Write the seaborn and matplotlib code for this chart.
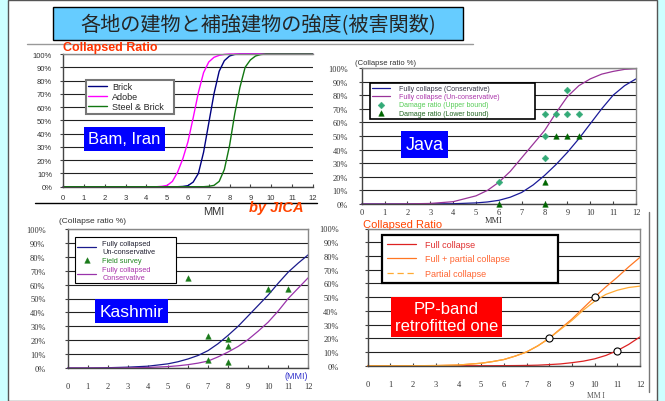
# -*- coding: utf-8 -*-
# 各地の建物と補強建物の強度 (被害関数) - 4 panels
import matplotlib
matplotlib.use('Agg')
import matplotlib.pyplot as plt
from matplotlib.patches import Rectangle
from matplotlib.lines import Line2D
import seaborn as sns

# ---------------- data ----------------
title = '各地の建物と補強建物の強度(被害関数)'
mmi_ticks = list(range(13))
pct_ticks = [i / 10 for i in range(11)]
pct_labels = ['%d%%' % (i * 10) for i in range(11)]

# Bam, Iran
bam_brick_x = [0, 5.5, 5.75, 6.0, 6.25, 6.5, 6.75, 7.0, 7.25, 7.5, 7.75, 8.0, 8.25, 8.5, 12]
bam_brick_y = [0, 0, 0.002, 0.008, 0.035, 0.10, 0.26, 0.48, 0.70, 0.87, 0.95, 0.985, 0.997, 1.0, 1.0]
bam_adobe_x = [0, 4.5, 4.75, 5.0, 5.25, 5.5, 5.75, 6.0, 6.25, 6.5, 6.75, 7.0, 7.25, 7.5, 7.75, 8.0, 12]
bam_adobe_y = [0, 0, 0.003, 0.01, 0.04, 0.11, 0.21, 0.34, 0.52, 0.71, 0.86, 0.94, 0.975, 0.99, 0.997, 1.0, 1.0]
bam_steel_x = [0, 6.75, 7.0, 7.25, 7.5, 7.75, 8.0, 8.25, 8.5, 8.75, 9.0, 9.25, 9.5, 9.75, 12]
bam_steel_y = [0, 0, 0.003, 0.01, 0.04, 0.13, 0.31, 0.55, 0.75, 0.90, 0.955, 0.985, 0.996, 1.0, 1.0]

# Java
java_x = [0, 1, 2, 3, 4, 5, 5.5, 6, 6.5, 7, 7.5, 8, 8.5, 9, 9.5, 10, 10.5, 11, 11.5, 12]
java_cons = [0, 0, 0, 0.001, 0.002, 0.008, 0.015, 0.027, 0.05, 0.085, 0.14, 0.21, 0.29, 0.38,
             0.48, 0.59, 0.70, 0.80, 0.87, 0.92]
java_uncons = [0, 0, 0.001, 0.004, 0.017, 0.06, 0.10, 0.16, 0.24, 0.34, 0.44, 0.54, 0.67, 0.79,
               0.87, 0.92, 0.955, 0.975, 0.99, 0.995]
java_upper_x = [6, 8, 8, 8, 8.5, 9, 9, 9.5]
java_upper_y = [0.165, 0.335, 0.5, 0.665, 0.665, 0.665, 0.835, 0.665]
java_lower_x = [6, 8, 8, 8.5, 9, 9.5]
java_lower_y = [0, 0, 0.165, 0.5, 0.5, 0.5]

# Kashmir
kash_x = [0, 1, 2, 3, 4, 5, 5.5, 6, 6.5, 7, 7.5, 8, 8.5, 9, 9.5, 10, 10.5, 11, 11.5, 12]
kash_uncons = [0, 0, 0.002, 0.006, 0.013, 0.03, 0.045, 0.065, 0.09, 0.125, 0.175, 0.235, 0.30,
               0.375, 0.45, 0.525, 0.61, 0.69, 0.755, 0.815]
kash_cons = [0, 0, 0, 0.001, 0.004, 0.01, 0.016, 0.024, 0.035, 0.05, 0.08, 0.115, 0.155, 0.205,
             0.265, 0.33, 0.41, 0.50, 0.575, 0.65]
kash_survey_x = [6, 7, 7, 8, 8, 8, 10, 11]
kash_survey_y = [0.645, 0.23, 0.06, 0.21, 0.155, 0.045, 0.57, 0.57]

# PP-band retrofitted
pp_x = [0, 1, 2, 3, 4, 5, 5.5, 6, 6.5, 7, 7.5, 8, 8.5, 9, 9.5, 10, 10.5, 11, 11.5, 12]
pp_full = [0, 0, 0, 0, 0, 0, 0, 0.0005, 0.001, 0.002, 0.004, 0.008, 0.013, 0.022, 0.033, 0.05,
           0.075, 0.11, 0.155, 0.21]
pp_full_partial = [0, 0, 0, 0.001, 0.005, 0.018, 0.03, 0.045, 0.07, 0.10, 0.145, 0.20, 0.27,
                   0.34, 0.42, 0.50, 0.575, 0.645, 0.72, 0.79]
pp_partial = [0, 0, 0, 0.001, 0.005, 0.018, 0.03, 0.045, 0.07, 0.10, 0.145, 0.20, 0.265, 0.33,
              0.405, 0.47, 0.52, 0.55, 0.57, 0.58]
pp_circle_x = [8, 10, 11]
pp_circle_y = [0.20, 0.50, 0.11]

# ---------------- figure ----------------
sns.set_theme(style='white')
plt.rcParams['font.family'] = ['Liberation Sans', 'DejaVu Sans']
W, H = 665, 402
fig = plt.figure(figsize=(W / 100, H / 100), dpi=100, facecolor='#CCFFFF')


def px(x0, y0, x1, y1):
    # pixel box -> figure fraction
    return [x0 / W, 1 - y1 / H, (x1 - x0) / W, (y1 - y0) / H]


def fx(x, y):
    return x / W, 1 - y / H


# slide background (kept below the axes)
fig.add_artist(Rectangle(fx(8, 402), 649 / W, 401 / H, transform=fig.transFigure,
                         fc='white', ec='#555555', lw=1, zorder=-10))
fig.add_artist(Rectangle(fx(53, 41), 410 / W, 33 / H, transform=fig.transFigure,
                         fc='#66CCFF', ec='black', lw=1, zorder=-5))
fig.text(*fx(258.5, 25.5), title, ha='center', va='center', fontsize=14.5,
         family=['Noto Sans CJK JP', 'DejaVu Sans'])
fig.add_artist(Line2D([27 / W, 473 / W], [1 - 45 / H] * 2, transform=fig.transFigure,
                      color='#999999', lw=1, zorder=-5))
fig.add_artist(Line2D([35 / W, 317 / W], [1 - 204 / H] * 2, transform=fig.transFigure,
                      color='black', lw=1, zorder=-5))
fig.add_artist(Line2D([649 / W] * 2, [1 - 213 / H, 1 - 393 / H], transform=fig.transFigure,
                      color='#777777', lw=1, zorder=-5))


def setup(ax, serif, ylab_pad, xlab_pad, fs):
    ax.set_xlim(0, 12)
    ax.set_ylim(0, 1)
    ax.set_xticks(mmi_ticks)
    ax.set_yticks(pct_ticks)
    ax.set_yticklabels(pct_labels)
    ax.set_xlabel('')
    ax.set_ylabel('')
    fam = ['Liberation Serif'] if serif else ['Liberation Sans']
    for t in ax.get_xticklabels() + ax.get_yticklabels():
        t.set_family(fam)
        t.set_fontsize(fs)
        t.set_color('#333333')
    ax.tick_params(axis='x', direction='in', length=2, width=0.8, pad=xlab_pad, color='#444444',
                   bottom=True)
    ax.tick_params(axis='y', direction='out', length=2, width=0.8, pad=ylab_pad, color='#444444',
                   left=True)
    ax.grid(axis='y', color='#222222', lw=0.8)
    ax.grid(axis='x', visible=False)
    ax.set_axisbelow(True)
    for s in ['left', 'bottom']:
        ax.spines[s].set_color('#444444')
        ax.spines[s].set_linewidth(1)
    for s in ['top', 'right']:
        ax.spines[s].set_color('#888888')
        ax.spines[s].set_linewidth(1)


def label_box(ax, cx, cy, text, fc, fs):
    ax.text(cx, cy, text, transform=ax.transAxes, ha='center', va='center', fontsize=fs,
            color='white', zorder=10, linespacing=1.15,
            bbox=dict(boxstyle='square,pad=0.25', fc=fc, ec='none'))


def curve(ax, x, y, color, lw=0.9):
    sns.lineplot(x=x, y=y, ax=ax, color=color, lw=lw, errorbar=None, clip_on=False)
    return ax.get_lines()[-1]


# ---- Bam, Iran ----
ax1 = fig.add_axes(px(63.3, 55, 312.7, 187.7))
l1 = curve(ax1, bam_brick_x, bam_brick_y, '#000080', 1)
l2 = curve(ax1, bam_adobe_x, bam_adobe_y, '#FF00FF', 1)
l3 = curve(ax1, bam_steel_x, bam_steel_y, '#117711', 1)
setup(ax1, False, 6, 5, 5.5)
ax1.spines['right'].set_visible(False)
leg = ax1.legend([l1, l2, l3], ['Brick', 'Adobe', 'Steel & Brick'], loc='upper left',
                 bbox_to_anchor=(0.09, 0.306, 0.354, 0.5), mode='expand', borderaxespad=0,
                 fontsize=6.5, fancybox=False, edgecolor='#777777', framealpha=1,
                 handlelength=2.0, handletextpad=0.6, labelspacing=0.1, borderpad=0.3)
leg.get_frame().set_linewidth(1.5)
label_box(ax1, 0.244, 0.36, 'Bam, Iran', '#0000FF', 12)
fig.text(*fx(63, 47.5), 'Collapsed Ratio', ha='left', va='center', fontsize=9,
         fontweight='bold', color='#FF3300')
fig.text(*fx(214, 212), 'MMI', ha='center', va='center', fontsize=8, color='#333333')
fig.text(*fx(276, 208), 'by JICA', ha='center', va='center', fontsize=10.5,
         fontweight='bold', style='italic', color='#FF4400')

# ---- Java ----
ax2 = fig.add_axes(px(361.7, 69, 636, 205))
l1 = curve(ax2, java_x, java_cons, '#1A1A99')
l2 = curve(ax2, java_x, java_uncons, '#993399')
sns.scatterplot(x=java_upper_x, y=java_upper_y, ax=ax2, marker='D', s=12, color='#33AA77',
                edgecolor='#33AA77', clip_on=False, zorder=4)
c1 = ax2.collections[-1]
sns.scatterplot(x=java_lower_x, y=java_lower_y, ax=ax2, marker='^', s=16, color='#006600',
                edgecolor='#006600', clip_on=False, zorder=4)
c2 = ax2.collections[-1]
setup(ax2, True, 8, 3, 6)
leg = ax2.legend([l1, l2, c1, c2],
                 ['Fully collapse (Conservative)', 'Fully collapse (Un-conservative)',
                  'Damage ratio (Upper bound)', 'Damage ratio (Lower bound)'],
                 loc='upper left', bbox_to_anchor=(0.03, 0.39, 0.6015, 0.5), mode='expand',
                 borderaxespad=0, fontsize=5, fancybox=False, edgecolor='black', framealpha=1,
                 handlelength=2.6, handletextpad=1.2, labelspacing=0.15, borderpad=0.35)
leg.get_frame().set_linewidth(1.2)
for t, c in zip(leg.get_texts(), ['#333344', '#AA33AA', '#55CC55', '#226622']):
    t.set_color(c)
label_box(ax2, 0.2304, 0.4375, 'Java', '#0000FF', 13)
fig.text(*fx(355, 64), '(Collapse ratio %)', ha='left', va='center', fontsize=5.5,
         color='#333333')
fig.text(*fx(494, 221), 'MMI', ha='center', va='center', fontsize=6,
         family=['Liberation Serif'], color='#333333')

# ---- Kashmir ----
ax3 = fig.add_axes(px(67.7, 230, 308.3, 369))
l1 = curve(ax3, kash_x, kash_uncons, '#1A1A8C')
sns.scatterplot(x=kash_survey_x, y=kash_survey_y, ax=ax3, marker='^', s=16, color='#1A7A1A',
                edgecolor='#1A7A1A', clip_on=False, zorder=4)
c1 = ax3.collections[-1]
l2 = curve(ax3, kash_x, kash_cons, '#9933AA')
setup(ax3, True, 14, 10, 6)
leg = ax3.legend([l1, c1, l2], ['Fully collapsed\nUn-conservative', 'Field survey',
                                'Fully collapsed\nConservative'],
                 loc='upper left', bbox_to_anchor=(0.03, 0.44, 0.42, 0.5), mode='expand',
                 borderaxespad=0, fontsize=5.3, fancybox=False, edgecolor='black', framealpha=1,
                 handlelength=2.6, handletextpad=0.8, labelspacing=0.3, borderpad=0.3)
leg.get_frame().set_linewidth(0.8)
for t, c in zip(leg.get_texts(), ['#222233', '#228822', '#AA33AA']):
    t.set_color(c)
label_box(ax3, 0.2647, 0.41, 'Kashmir', '#0000FF', 12.5)
fig.text(*fx(59, 222), '(Collapse ratio %)', ha='left', va='center', fontsize=6,
         color='#333333')
fig.text(*fx(296, 377), '(MMI)', ha='center', va='center', fontsize=6.5, color='#3333CC')

# ---- PP-band retrofitted ----
ax4 = fig.add_axes(px(367.7, 229.5, 640, 366.7))
l1 = curve(ax4, pp_x, pp_full, '#DD2222')
l2 = curve(ax4, pp_x, pp_full_partial, '#FF7722')
curve(ax4, pp_x, pp_partial, '#FFAA33')
sns.scatterplot(x=pp_circle_x, y=pp_circle_y, ax=ax4, marker='o', s=26, color='white',
                edgecolor='black', linewidth=0.8, zorder=4)
setup(ax4, True, 19, 10, 6)
l3 = Line2D([], [], color='#FFAA33', lw=0.9, dashes=(5, 3))
leg = ax4.legend([l1, l2, l3], ['Full collapse', 'Full + partial collapse', 'Partial collapse'],
                 loc='upper left', bbox_to_anchor=(0.0514, 0.4526, 0.6486, 0.5), mode='expand',
                 borderaxespad=0, fontsize=6.5, fancybox=False, edgecolor='black', framealpha=1,
                 handlelength=3.3, handletextpad=0.9, labelspacing=0.6, borderpad=0.55)
leg.get_frame().set_linewidth(1.6)
for t, c in zip(leg.get_texts(), ['#E03030', '#FF6633', '#FF6633']):
    t.set_color(c)
label_box(ax4, 0.2894, 0.3557, 'PP-band\nretrofitted one', '#FF0000', 12)
fig.text(*fx(363, 225), 'Collapsed Ratio', ha='left', va='center', fontsize=8,
         color='#FF4400')
fig.text(*fx(596, 396), 'MM I', ha='center', va='center', fontsize=5.5,
         family=['Liberation Serif'], color='#555555')

fig.savefig('out.png', dpi=100, facecolor=fig.get_facecolor())
